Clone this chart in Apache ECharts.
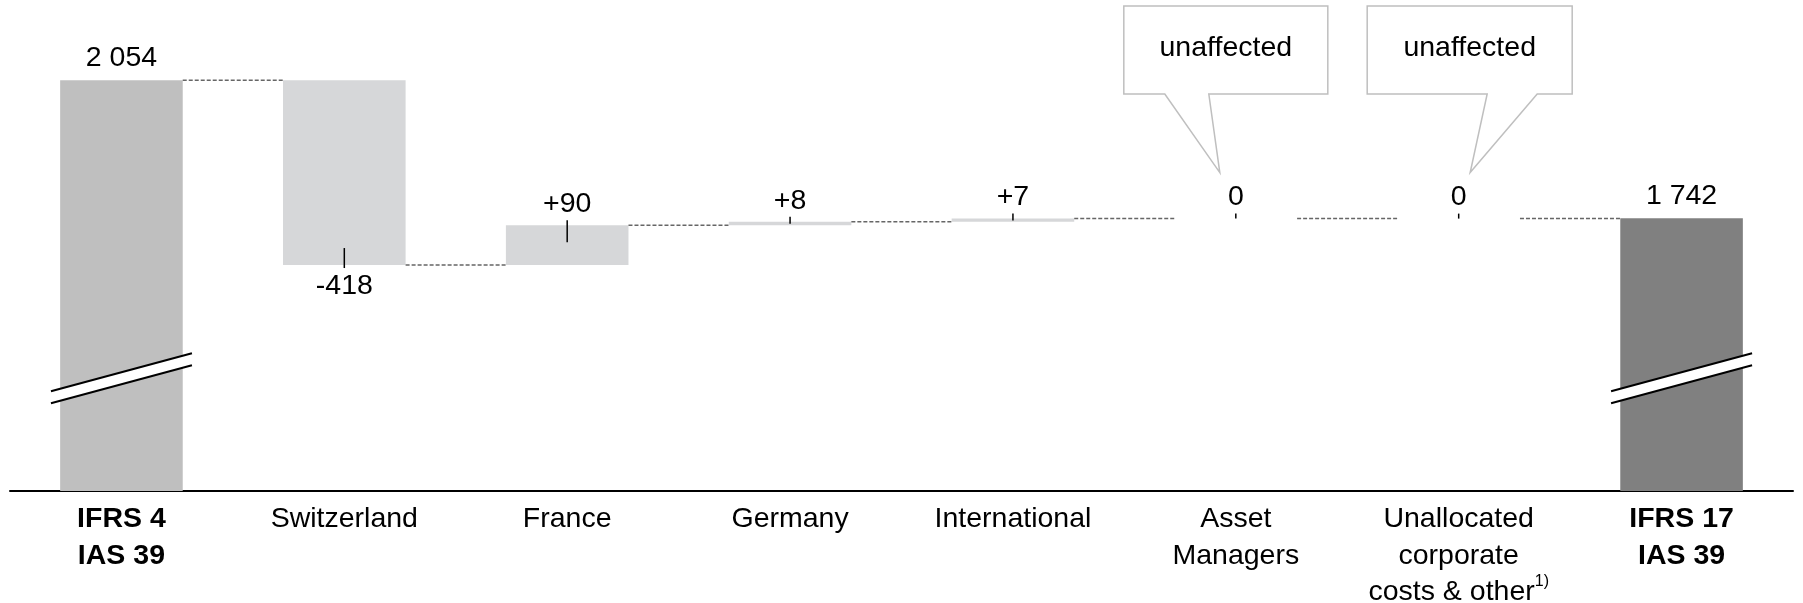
<!DOCTYPE html>
<html><head><meta charset="utf-8">
<script src="https://cdn.jsdelivr.net/npm/echarts@6/dist/echarts.min.js"></script>
<style>html,body{margin:0;padding:0;background:#fff;overflow:hidden}#c{width:1803px;height:603px}</style>
</head><body><div id="c"></div>
<script>
// ---- data ----
const categories = ['IFRS 4\nIAS 39', 'Switzerland', 'France', 'Germany', 'International', 'Asset\nManagers', 'Unallocated\ncorporate\ncosts & other', 'IFRS 17\nIAS 39'];
const values = [2054, -418, 90, 8, 7, 0, 0, 1742];
const isTotal = [true, false, false, false, false, false, false, true];
const valueLabels = ['2 054', '-418', '+90', '+8', '+7', '0', '0', '1 742'];
const footnoteMarks = ['', '', '', '', '', '', '1)', ''];
const calloutTexts = ['', '', '', '', '', 'unaffected', 'unaffected', ''];

// ---- layout / style ----
const FONT = "'Liberation Sans', Arial, sans-serif";
const FS = 28.5;
const LH = 36.5;
const BAR_RATIO = 0.55;
const Y_MIN = 1125, Y_MAX = 2215;
const BREAK_VALUE = 1380;
const COLORS = { total0: '#bfbfbf', totalN: '#808080', delta: '#d6d7d9' };
const CALLOUT = [null, null, null, null, null,
  { L: -112, R: 92, b1: -71, b2: -27, tip: -16 },
  { L: -91.5, R: 113.5, b1: 28.5, b2: 78.5, tip: 11.5 }, null];
const BOX_TOP = 6, BOX_BOTTOM = 94;

// derived waterfall table
const starts = [], ends = [];
let cum = 0;
values.forEach((v, i) => {
  if (isTotal[i]) { starts.push(0); ends.push(v); cum = v; }
  else { starts.push(cum); ends.push(cum + v); cum += v; }
});
const baseData = values.map((v, i) => isTotal[i] ? 0 : Math.min(starts[i], ends[i]));
const visData = values.map((v, i) => {
  const total = isTotal[i];
  const neg = v < 0;
  return {
    value: total ? v : Math.abs(v),
    itemStyle: { color: total ? (i === 0 ? COLORS.total0 : COLORS.totalN) : COLORS.delta },
    label: {
      show: true,
      position: neg ? 'bottom' : 'top',
      distance: total ? 8 : (neg ? 7 : 6.5),
      formatter: valueLabels[i]
    }
  };
});

const chart = echarts.init(document.getElementById('c'), null, { renderer: 'canvas' });

function renderDecor(params, api) {
  const i = params.dataIndex;
  const n = values.length;
  const band = api.size([1, 0])[0];
  const bw = band * BAR_RATIO;
  const p = api.coord([i, ends[i]]);
  const cx = p[0], y = p[1];
  const children = [];
  if (i < n - 1) {
    const nx = api.coord([i + 1, ends[i]])[0];
    children.push({ type: 'line', shape: { x1: cx + bw / 2, y1: y, x2: nx - bw / 2, y2: y },
      style: { stroke: '#666', lineWidth: 1.5, lineDash: [4, 2] } });
  }
  if (!isTotal[i]) {
    const h = Math.abs(api.size([0, values[i]])[1]);
    const inner = Math.min(17, h * 0.6);
    let y1, y2;
    if (values[i] < 0) { y1 = y + 3; y2 = y - inner; }
    else { y1 = y - 5; y2 = y + inner; }
    children.push({ type: 'line', shape: { x1: cx, y1: y1, x2: cx, y2: y2 },
      style: { stroke: '#000', lineWidth: 1.5 } });
  } else {
    const by = api.coord([i, BREAK_VALUE])[1];
    const hx = 70.5, dy = 19, gap = 6;
    children.push({ type: 'polygon', shape: { points: [[cx - hx, by + dy - gap], [cx + hx, by - dy - gap], [cx + hx, by - dy + gap], [cx - hx, by + dy + gap]] },
      style: { fill: '#fff', stroke: null } });
    children.push({ type: 'line', shape: { x1: cx - hx, y1: by + dy - gap, x2: cx + hx, y2: by - dy - gap }, style: { stroke: '#000', lineWidth: 2 } });
    children.push({ type: 'line', shape: { x1: cx - hx, y1: by + dy + gap, x2: cx + hx, y2: by - dy + gap }, style: { stroke: '#000', lineWidth: 2 } });
  }
  const co = CALLOUT[i];
  if (calloutTexts[i] && co) {
    const L = cx + co.L, R = cx + co.R, T = BOX_TOP, B = BOX_BOTTOM;
    children.push({ type: 'polygon', shape: { points: [[L, T], [R, T], [R, B], [cx + co.b2, B], [cx + co.tip, y - 46], [cx + co.b1, B], [L, B]] },
      style: { fill: '#fff', stroke: '#bfbfbf', lineWidth: 1.5 } });
    children.push({ type: 'text', style: { text: calloutTexts[i], x: (L + R) / 2, y: (T + B) / 2 - 2, align: 'center', verticalAlign: 'middle',
      fontSize: FS, fontFamily: FONT, fill: '#000' } });
  }
  return { type: 'group', children: children };
}

chart.setOption({
  animation: false,
  backgroundColor: '#fff',
  grid: { left: 10, right: 10, top: 9, bottom: 112, containLabel: false, outerBoundsMode: 'none' },
  xAxis: {
    type: 'category',
    data: categories,
    axisLine: { show: true, lineStyle: { color: '#000', width: 2 } },
    axisTick: { show: false },
    axisLabel: {
      interval: 0, margin: 10, color: '#000', fontSize: FS, lineHeight: LH, fontFamily: FONT,
      formatter: function (val, idx) {
        const lines = categories[idx].split('\n');
        let out = lines.map(l => isTotal[idx] ? '{b|' + l + '}' : l);
        if (footnoteMarks[idx]) out[out.length - 1] += '{sup|' + footnoteMarks[idx] + '}';
        return out.join('\n');
      },
      rich: {
        b: { fontWeight: 'bold', fontSize: FS, lineHeight: LH, fontFamily: FONT, color: '#000' },
        sup: { fontSize: 16, lineHeight: 22, verticalAlign: 'top', fontFamily: FONT, color: '#000' }
      }
    }
  },
  yAxis: { type: 'value', show: false, min: Y_MIN, max: Y_MAX, splitLine: { show: false } },
  series: [
    { name: 'base', type: 'bar', stack: 'w', barWidth: (BAR_RATIO * 100) + '%', silent: true,
      itemStyle: { color: 'transparent' }, data: baseData },
    { name: 'value', type: 'bar', stack: 'w', barWidth: (BAR_RATIO * 100) + '%',
      label: { color: '#000', fontSize: FS, fontFamily: FONT }, data: visData },
    { name: 'decor', type: 'custom', z: 5, clip: false, renderItem: renderDecor,
      data: values.map((v, i) => [i, ends[i]]) }
  ]
});
</script></body></html>
